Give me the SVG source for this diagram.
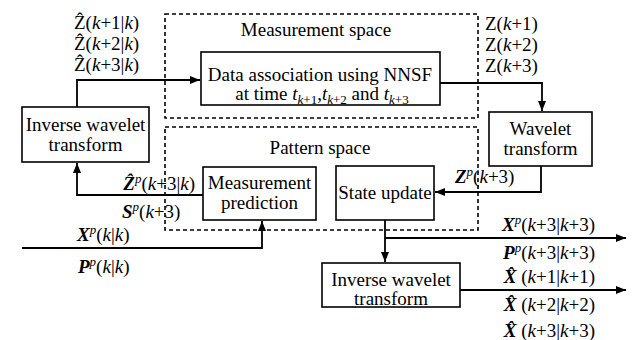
<svg xmlns="http://www.w3.org/2000/svg" width="635" height="340" viewBox="0 0 635 340">
<style>
text{font-family:"Liberation Serif","Times New Roman",serif;font-size:19px;fill:#000}
.i{font-style:italic}
.b{font-weight:bold;font-style:italic}
.s{font-size:13px;font-style:italic}
.box{fill:#fff;stroke:#000;stroke-width:1.6}
.dash{fill:none;stroke:#000;stroke-width:1.6;stroke-dasharray:4 3}
.ln{fill:none;stroke:#000;stroke-width:1.8}
.m{text-anchor:middle}
.e{text-anchor:end}
</style>
<defs>
<marker id="ah" viewBox="0 0 10 8" refX="10" refY="4" markerWidth="10" markerHeight="8" markerUnits="userSpaceOnUse" orient="auto">
<path d="M0,0 L10,4 L0,8 Z" fill="#000"/>
</marker>
</defs>
<g id="measurement-space"><rect class="dash" x="165" y="14" width="313" height="104"/><text class="m" x="316" y="36">Measurement space</text></g>
<g id="pattern-space"><rect class="dash" x="165" y="127" width="313" height="103"/><text class="m" x="320" y="154">Pattern space</text></g>
<g id="connectors">
<path class="ln" d="M77,107 V80 H200" marker-end="url(#ah)"/>
<path class="ln" d="M440,83 H542 V111" marker-end="url(#ah)"/>
<path class="ln" d="M541,166 V192 H435" marker-end="url(#ah)"/>
<path class="ln" d="M203,195 H77 V163" marker-end="url(#ah)"/>
<path class="ln" d="M22,248 H262 V221" marker-end="url(#ah)"/>
<path class="ln" d="M385,220 V262" marker-end="url(#ah)"/>
<path class="ln" d="M385,238 H626" marker-end="url(#ah)"/>
<path class="ln" d="M460,290 H626" marker-end="url(#ah)"/>
</g>
<g id="data-association"><rect class="box" x="201" y="52" width="239" height="53"/>
<text class="m" x="320" y="81">Data association using NNSF</text>
<text class="m" x="322" y="100">at time <tspan class="i">t</tspan><tspan class="s" dy="4">k</tspan><tspan font-size="13px" font-style="normal">+1</tspan><tspan dy="-4">,</tspan><tspan class="i">t</tspan><tspan class="s" dy="4">k</tspan><tspan font-size="13px">+2</tspan><tspan dy="-4"> and </tspan><tspan class="i">t</tspan><tspan class="s" dy="4">k</tspan><tspan font-size="13px">+3</tspan></text></g>
<g id="inverse-wavelet-1"><rect class="box" x="22" y="107" width="127" height="55"/>
<text class="m" x="85.5" y="131">Inverse wavelet</text><text class="m" x="85.5" y="151">transform</text></g>
<g id="wavelet"><rect class="box" x="489" y="112" width="103" height="54"/>
<text class="m" x="540.5" y="135">Wavelet</text><text class="m" x="540.5" y="155">transform</text></g>
<g id="measurement-prediction"><rect class="box" x="203" y="167" width="113" height="53"/>
<text class="m" x="259.5" y="189">Measurement</text><text class="m" x="259.5" y="209">prediction</text></g>
<g id="state-update"><rect class="box" x="336" y="166" width="98" height="54"/>
<text class="m" x="385" y="199">State update</text></g>
<g id="inverse-wavelet-2"><rect class="box" x="322" y="263" width="138" height="44"/>
<text class="m" x="391" y="286">Inverse wavelet</text><text class="m" x="391" y="305">transform</text></g>
<g id="labels">
<text x="74" y="29">Ẑ(<tspan class="i">k</tspan>+1|<tspan class="i">k</tspan>)</text>
<text x="74" y="50">Ẑ(<tspan class="i">k</tspan>+2|<tspan class="i">k</tspan>)</text>
<text x="74" y="71">Ẑ(<tspan class="i">k</tspan>+3|<tspan class="i">k</tspan>)</text>
<text x="485" y="30">Z(<tspan class="i">k</tspan>+1)</text>
<text x="485" y="51">Z(<tspan class="i">k</tspan>+2)</text>
<text x="485" y="72">Z(<tspan class="i">k</tspan>+3)</text>
<text x="455" y="183"><tspan class="b">Z</tspan><tspan class="s" dy="-7">p</tspan><tspan dy="7">(</tspan><tspan class="i">k</tspan>+3)</text>
<text class="e" x="195" y="190"><tspan class="b">Ẑ</tspan><tspan class="s" dy="-7">p</tspan><tspan dy="7">(</tspan><tspan class="i">k</tspan>+3|<tspan class="i">k</tspan>)</text>
<text x="122" y="218"><tspan class="b">S</tspan><tspan class="s" dy="-7">p</tspan><tspan dy="7">(</tspan><tspan class="i">k</tspan>+3)</text>
<text x="77" y="241"><tspan class="b">X</tspan><tspan class="s" dy="-7">p</tspan><tspan dy="7">(</tspan><tspan class="i">k</tspan>|<tspan class="i">k</tspan>)</text>
<text x="78" y="273"><tspan class="b">P</tspan><tspan class="s" dy="-7">p</tspan><tspan dy="7">(</tspan><tspan class="i">k</tspan>|<tspan class="i">k</tspan>)</text>
<text class="e" x="595" y="231"><tspan class="b">X</tspan><tspan class="s" dy="-7">p</tspan><tspan dy="7">(</tspan><tspan class="i">k</tspan>+3|<tspan class="i">k</tspan>+3)</text>
<text class="e" x="595" y="259"><tspan class="b">P</tspan><tspan class="s" dy="-7">p</tspan><tspan dy="7">(</tspan><tspan class="i">k</tspan>+3|<tspan class="i">k</tspan>+3)</text>
<text class="e" x="595" y="283"><tspan class="b">X̂</tspan> (<tspan class="i">k</tspan>+1|<tspan class="i">k</tspan>+1)</text>
<text class="e" x="595" y="311"><tspan class="b">X̂</tspan> (<tspan class="i">k</tspan>+2|<tspan class="i">k</tspan>+2)</text>
<text class="e" x="595" y="337"><tspan class="b">X̂</tspan> (<tspan class="i">k</tspan>+3|<tspan class="i">k</tspan>+3)</text>
</g>
</svg>
